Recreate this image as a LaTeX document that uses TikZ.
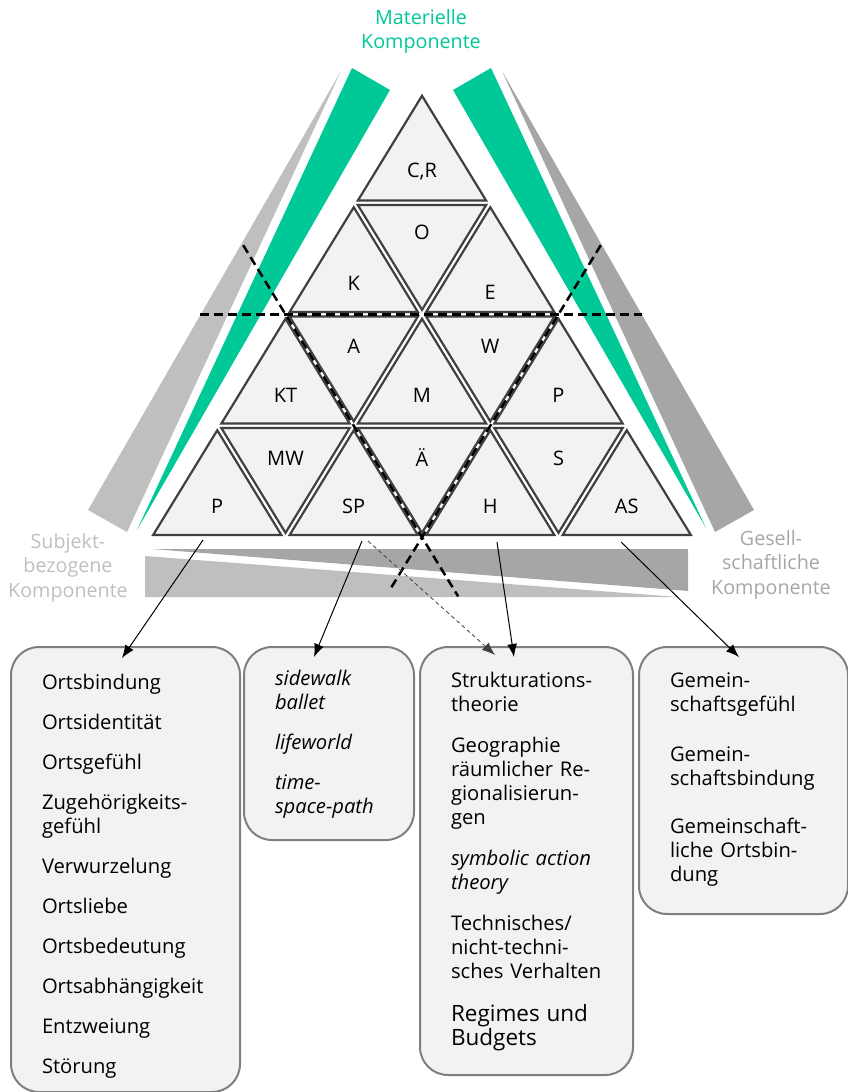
\documentclass[tikz,border=0pt]{standalone}
\usepackage{fontspec}
\setmainfont{Open Sans}
\usetikzlibrary{calc,arrows.meta}

\definecolor{matgreen}{RGB}{0,201,151}
\definecolor{trifill}{RGB}{242,242,242}
\definecolor{triline}{RGB}{64,64,64}
\definecolor{boxline}{RGB}{127,127,127}
\definecolor{lightgr}{RGB}{191,191,191}
\definecolor{midgr}{RGB}{166,166,166}

\newcommand*{\triw}{136.5}
\newcommand*{\trih}{111.5}
\newcommand*{\apexx}{422}
\newcommand*{\apexy}{91.3}
\newcommand*{\shrink}{0.94}
\newcommand*{\nobreaks}{\hyphenpenalty=10000\relax\exhyphenpenalty=10000\relax}

% one small triangle: name, three corners, label, label shift
\newcommand*{\smalltri}[6]{%
	\coordinate (#1c) at (barycentric cs:#2=1,#3=1,#4=1);
	\filldraw[tri] ($(#1c)!\shrink!(#2)$) -- ($(#1c)!\shrink!(#3)$) -- ($(#1c)!\shrink!(#4)$) -- cycle;
	\node[lbl] (#1) at ($(#1c)+(0,#6)$) {#5};
}

\begin{document}
\begin{tikzpicture}
[
	x=1pt, y=-1pt,
	tri/.style={fill=trifill,draw=triline,line width=2.2pt},
	lbl/.style={inner sep=0pt,font=\fontsize{20}{24}\selectfont},
	cut/.style={black,line width=2.5pt,dash pattern=on 9pt off 5pt},
	textbox/.style={draw=boxline,fill=trifill,line width=2pt,rounded corners=28pt,
		anchor=north west,inner xsep=31pt,inner ysep=0pt,align=left,
		font=\fontsize{20.2}{24}\selectfont},
	compo/.style={anchor=north,inner sep=0pt,text width=140pt,align=center,
		font=\fontsize{19.7}{24.5}\selectfont},
	arr/.style={-{Latex[length=13pt,width=10pt]},line width=1pt},
	dasharr/.style={-{Latex[length=13pt,width=10pt]},line width=0.8pt,triline,dash pattern=on 4pt off 3pt}
]

	\useasboundingbox (0,0) rectangle (848,1092);

	% side wedges
	\fill[lightgr] (341,71) -- (88,510) -- (127,532) -- cycle;
	\fill[matgreen] (352,68) -- (390,90) -- (137,530) -- cycle;
	\fill[matgreen] (491,68) -- (453,90) -- (706,528) -- cycle;
	\fill[midgr] (502,71) -- (754,510) -- (715,532) -- cycle;
	\fill[midgr] (152,549) -- (688,549) -- (688,591) -- cycle;
	\fill[lightgr] (145,556) -- (145,597) -- (678,597) -- cycle;

	% lattice of the big triangle
	\foreach \r in {0,...,4}
		\foreach \k in {0,...,\r}
			\coordinate (L\r\k) at ({\apexx+(\k-\r/2)*\triw},{\apexy+\r*\trih});

	% row 1
	\smalltri{tCR}{L00}{L10}{L11}{C,R}{6}
	% row 2
	\smalltri{tK}{L10}{L20}{L21}{K}{6}
	\smalltri{tO}{L10}{L11}{L21}{O}{-8}
	\smalltri{tE}{L11}{L21}{L22}{E}{15}
	% row 3
	\smalltri{tKT}{L20}{L30}{L31}{KT}{7}
	\smalltri{tA}{L20}{L21}{L31}{A}{-5}
	\smalltri{tM}{L21}{L31}{L32}{M}{7}
	\smalltri{tW}{L21}{L22}{L32}{W}{-5}
	\smalltri{tPr}{L22}{L32}{L33}{P}{7}
	% row 4
	\smalltri{tPl}{L30}{L40}{L41}{P}{6}
	\smalltri{tMW}{L30}{L31}{L41}{MW}{-5}
	\smalltri{tSP}{L31}{L41}{L42}{SP}{6}
	\smalltri{tAE}{L31}{L32}{L42}{Ä}{-5}
	\smalltri{tH}{L32}{L42}{L43}{H}{6}
	\smalltri{tS}{L32}{L33}{L43}{S}{-5}
	\smalltri{tAS}{L33}{L43}{L44}{AS}{6}

	% cuts
	\draw[cut] ($(L20)+(-85.5,0)$) -- ($(L22)+(83.5,0)$);
	\draw[cut] ($(L20)!-0.31!(L42)$) -- ($(L42)!-0.265!(L20)$);
	\draw[cut] ($(L22)!-0.31!(L42)$) -- ($(L42)!-0.234!(L22)$);

	% components
	\node[compo,text=matgreen,text height=24pt] (mat) at (421,0) {Materielle\\Komponente};
	\node[compo,text=lightgr,text height=30pt] (subj) at (68,518) {Subjekt-\\bezogene\\Komponente};
	\node[compo,text=midgr,text height=30pt] (ges) at (771,515) {Gesell-\\schaftliche\\Komponente};

	% boxes
	\node[textbox,text width=167pt,text height=42pt,text depth=403pt] (ortsbox) at (10,646)
		{\nobreaks Ortsbindung\\[16pt]
		Ortsidentität\\[16pt]
		Ortsgefühl\\[16pt]
		Zugehörigkeits-\\gefühl\\[16pt]
		Verwurzelung\\[16pt]
		Ortsliebe\\[16pt]
		Ortsbedeutung\\[16pt]
		Ortsabhängigkeit\\[16pt]
		Entzweiung\\[16pt]
		Störung};
	\node[textbox,text width=108pt,text height=38pt,text depth=155pt] (lifebox) at (243,646)
		{\nobreaks\itshape sidewalk\\ballet\\[16pt]
		lifeworld\\[16pt]
		time-\\space-path};
	\node[textbox,text width=151pt,text height=40pt,text depth=388pt] (theobox) at (419,646)
		{\nobreaks Strukturations-\\theorie\\[17pt]
		Geographie\\\mbox{räumlicher Re-}\\gionalisierun-\\gen\\[17pt]
		\mbox{\itshape symbolic action}\\{\itshape theory}\\[17pt]
		Technisches/\\nicht-techni-\\\mbox{sches Verhalten}\par\vspace{16pt}
		\fontsize{22.5}{27}\selectfont\mbox{Regimes und}\\Budgets};
	\node[textbox,text width=147pt,text height=40pt,text depth=227pt] (gemebox) at (638,646)
		{\nobreaks Gemein-\\schaftsgefühl\\[26pt]
		Gemein-\\schaftsbindung\\[24pt]
		Gemeinschaft-\\\mbox{liche Ortsbin-}\\dung};

	% arrows
	\coordinate (pOut) at (203,540);
	\coordinate (spOut) at (362,541);
	\coordinate (spOutB) at (368,541);
	\coordinate (hOut) at (497,542);
	\coordinate (asOut) at (621,542);
	\coordinate (ortsIn) at (122,658);
	\coordinate (lifeIn) at (314,657);
	\coordinate (theoInA) at (495,655);
	\coordinate (theoInB) at (514,657);
	\coordinate (gemeIn) at (739,657);
	\draw[arr] (pOut) -- (ortsIn);
	\draw[arr] (spOut) -- (lifeIn);
	\draw[dasharr] (spOutB) -- (theoInA);
	\draw[arr] (hOut) -- (theoInB);
	\draw[arr] (asOut) -- (gemeIn);

\end{tikzpicture}
\end{document}
